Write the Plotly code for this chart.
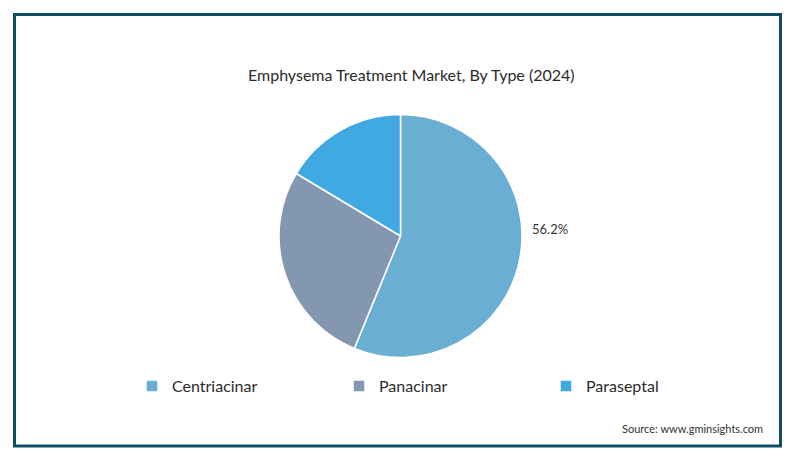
import plotly.graph_objects as go

# figure drawn inside an 8px page margin
W, H = 780, 440
OFF = 8

categories = ["Centriacinar", "Panacinar", "Paraseptal"]
shares = [56.2, 27.4, 16.4]
colors = ["#6aaed3", "#8497b1", "#41a9e1"]
title_text = "Emphysema Treatment Market, By Type (2024)"
source_text = "Source: www.gminsights.com"


def px(x):
    return (x - OFF) / W


def py(y):
    return (H - (y - OFF)) / H


cx, cy, r = 400.5, 236, 121.5

fig = go.Figure(go.Pie(
    labels=categories,
    values=shares,
    sort=False,
    direction="clockwise",
    rotation=0,
    marker=dict(colors=colors, line=dict(color="white", width=1.5)),
    textinfo="none",
    hoverinfo="label+percent",
    domain=dict(x=[px(cx - r), px(cx + r)], y=[py(cy + r), py(cy - r)]),
    automargin=False,
))

fig.add_annotation(
    x=px(530), y=py(229), xref="paper", yref="paper",
    text=f"{shares[0]}%", showarrow=False, xanchor="left", yanchor="middle",
    font=dict(family="Lato, Open Sans, sans-serif", size=13, color="#333333"),
)
fig.add_annotation(
    x=px(411), y=py(74), xref="paper", yref="paper",
    text=title_text, showarrow=False, xanchor="center", yanchor="middle",
    font=dict(family="Lato, Open Sans, sans-serif", size=16, color="#2b2b2b"),
)
fig.add_annotation(
    x=px(765), y=py(428), xref="paper", yref="paper",
    text=source_text, showarrow=False, xanchor="right", yanchor="middle",
    font=dict(family="Lato, Open Sans, sans-serif", size=11, color="#333333"),
)

fig.add_shape(
    type="rect", xref="paper", yref="paper",
    x0=px(14.5), x1=px(780.5), y0=py(446), y1=py(14.5),
    line=dict(color="#0e4c62", width=3), fillcolor="rgba(0,0,0,0)",
)

fig.update_layout(
    width=W, height=H,
    margin=dict(l=0, r=0, t=0, b=0),
    paper_bgcolor="white", plot_bgcolor="white",
    showlegend=True,
    legend=dict(
        orientation="h", x=px(132), y=py(386), xanchor="left", yanchor="middle",
        entrywidth=162, entrywidthmode="pixels",
        font=dict(family="Lato, Open Sans, sans-serif", size=16, color="#2b2b2b"),
        bgcolor="rgba(0,0,0,0)",
    ),
)

fig.write_html("out.html")
